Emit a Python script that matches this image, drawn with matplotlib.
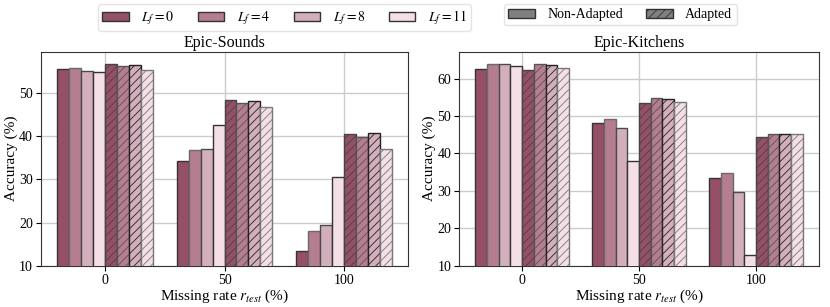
import matplotlib
matplotlib.use('Agg')
import matplotlib.pyplot as plt
import numpy as np
from matplotlib.patches import Patch

plt.rcParams['font.family'] = ['Liberation Serif', 'DejaVu Serif']
plt.rcParams['mathtext.fontset'] = 'stix'
plt.rcParams['hatch.linewidth'] = 0.6

# data
missing_rates = ['0', '50', '100']
lf_labels = ['$L_f=0$', '$L_f=4$', '$L_f=8$', '$L_f=11$']
colors = ['#955068', '#b47e90', '#d3afbd', '#f3dfe5']

sounds_non_adapted = [
    [55.4, 34.2, 13.5],   # Lf=0
    [55.7, 36.8, 18.0],   # Lf=4
    [55.1, 37.1, 19.4],   # Lf=8
    [54.8, 42.6, 30.5],   # Lf=11
]
sounds_adapted = [
    [56.7, 48.4, 40.4],
    [56.2, 47.7, 39.7],
    [56.4, 48.1, 40.7],
    [55.2, 46.7, 37.1],
]
kitchens_non_adapted = [
    [62.6, 48.1, 33.5],
    [64.0, 49.2, 34.7],
    [63.9, 46.8, 29.6],
    [63.3, 38.1, 12.9],
]
kitchens_adapted = [
    [62.2, 53.5, 44.4],
    [63.9, 54.7, 45.1],
    [63.5, 54.5, 45.3],
    [62.9, 53.7, 45.1],
]

edge_non = ['#333333', '#6a6a6a', '#4a4a4a', '#333333']
edge_ad = ['#444444', '#555555', '#222222', '#777777']

fig = plt.figure(figsize=(8.3, 3.07), dpi=100)
ax1 = fig.add_axes([0.049, 0.134, 0.443, 0.698])
ax2 = fig.add_axes([0.553, 0.134, 0.434, 0.698])

def draw(ax, non, ad, title):
    x = np.arange(len(missing_rates))
    w = 0.1
    for i in range(4):
        ax.bar(x + (i - 3.5) * w, non[i], w, color=colors[i],
               edgecolor=edge_non[i], linewidth=1, zorder=3)
    for i in range(4):
        ax.bar(x + (i + 0.5) * w, ad[i], w, color=colors[i],
               edgecolor=edge_ad[i], linewidth=1, hatch='////', zorder=3)
    top = max(max(max(r) for r in non), max(max(r) for r in ad)) * 1.05
    ax.set_ylim(10, top)
    ax.set_xticks(x)
    ax.set_xticklabels(missing_rates, fontsize=10)
    ax.tick_params(axis='y', labelsize=10, pad=2)
    ax.tick_params(axis='x', pad=2)
    ax.set_yticks([10, 20, 30, 40, 50, 60] if top > 60 else [10, 20, 30, 40, 50])
    ax.grid(True, color='#cccccc', linewidth=1, zorder=0)
    ax.set_axisbelow(True)
    ax.set_title(title, fontsize=11.5, pad=3)
    ax.set_xlabel('Missing rate $r_{test}$ (%)', fontsize=11, labelpad=1)
    ax.set_ylabel('Accuracy (%)', fontsize=11, labelpad=1)
    for s in ax.spines.values():
        s.set_color('#333333')

draw(ax1, sounds_non_adapted, sounds_adapted, 'Epic-Sounds')
draw(ax2, kitchens_non_adapted, kitchens_adapted, 'Epic-Kitchens')

leg_kw = dict(loc='upper left', fontsize=10, frameon=True, handlelength=1.9,
              handleheight=0.6, columnspacing=1.7, handletextpad=0.9,
              borderpad=0.3, borderaxespad=0)

h1 = [Patch(facecolor=colors[i], edgecolor='#333333', label=lf_labels[i]) for i in range(4)]
leg1 = fig.legend(handles=h1, bbox_to_anchor=(98 / 830, 1 - 4 / 307), ncol=4, **leg_kw)
leg1.get_frame().set_edgecolor('#dddddd')

h2 = [Patch(facecolor='#808080', edgecolor='#333333', label='Non-Adapted'),
      Patch(facecolor='#808080', edgecolor='#333333', hatch='////', label='Adapted')]
leg2 = fig.legend(handles=h2, bbox_to_anchor=(504 / 830, 1 - 4 / 307), ncol=2, **leg_kw)
leg2.get_frame().set_edgecolor('#dddddd')

fig.savefig('out.png', dpi=100)
